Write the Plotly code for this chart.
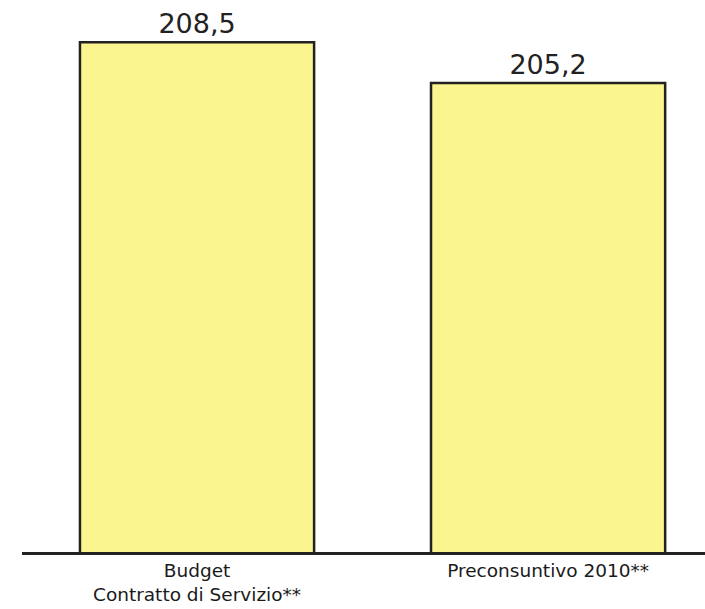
import plotly.graph_objects as go

categories = ["Budget<br>Contratto di Servizio**", "Preconsuntivo 2010**"]
values = [208.5, 205.2]

fig = go.Figure(
    go.Bar(
        x=categories,
        y=values,
        width=0.667,
        marker=dict(color="#FAF58E", line=dict(color="#222222", width=2.5)),
        texttemplate="%{y:.1f}",
        textposition="outside",
        textfont=dict(family="DejaVu Sans", size=27, color="#222222"),
        cliponaxis=False,
    )
)

fig.update_layout(
    width=705,
    height=609,
    margin=dict(l=22, r=0, t=0, b=57),
    paper_bgcolor="white",
    plot_bgcolor="white",
    separators=",.",
    showlegend=False,
    font=dict(family="DejaVu Sans", color="#222222"),
)
fig.update_xaxes(
    range=[-0.4986, 1.447],
    showline=True,
    linecolor="#222222",
    linewidth=2.5,
    showgrid=False,
    ticks="",
    tickfont=dict(size=18.5, family="DejaVu Sans", color="#1a1a1a"),
    automargin=False,
    ticklabelstandoff=0,
)
fig.update_yaxes(
    range=[167.4, 211.9],
    visible=False,
    showgrid=False,
    automargin=False,
)

fig.write_html("out.html")
